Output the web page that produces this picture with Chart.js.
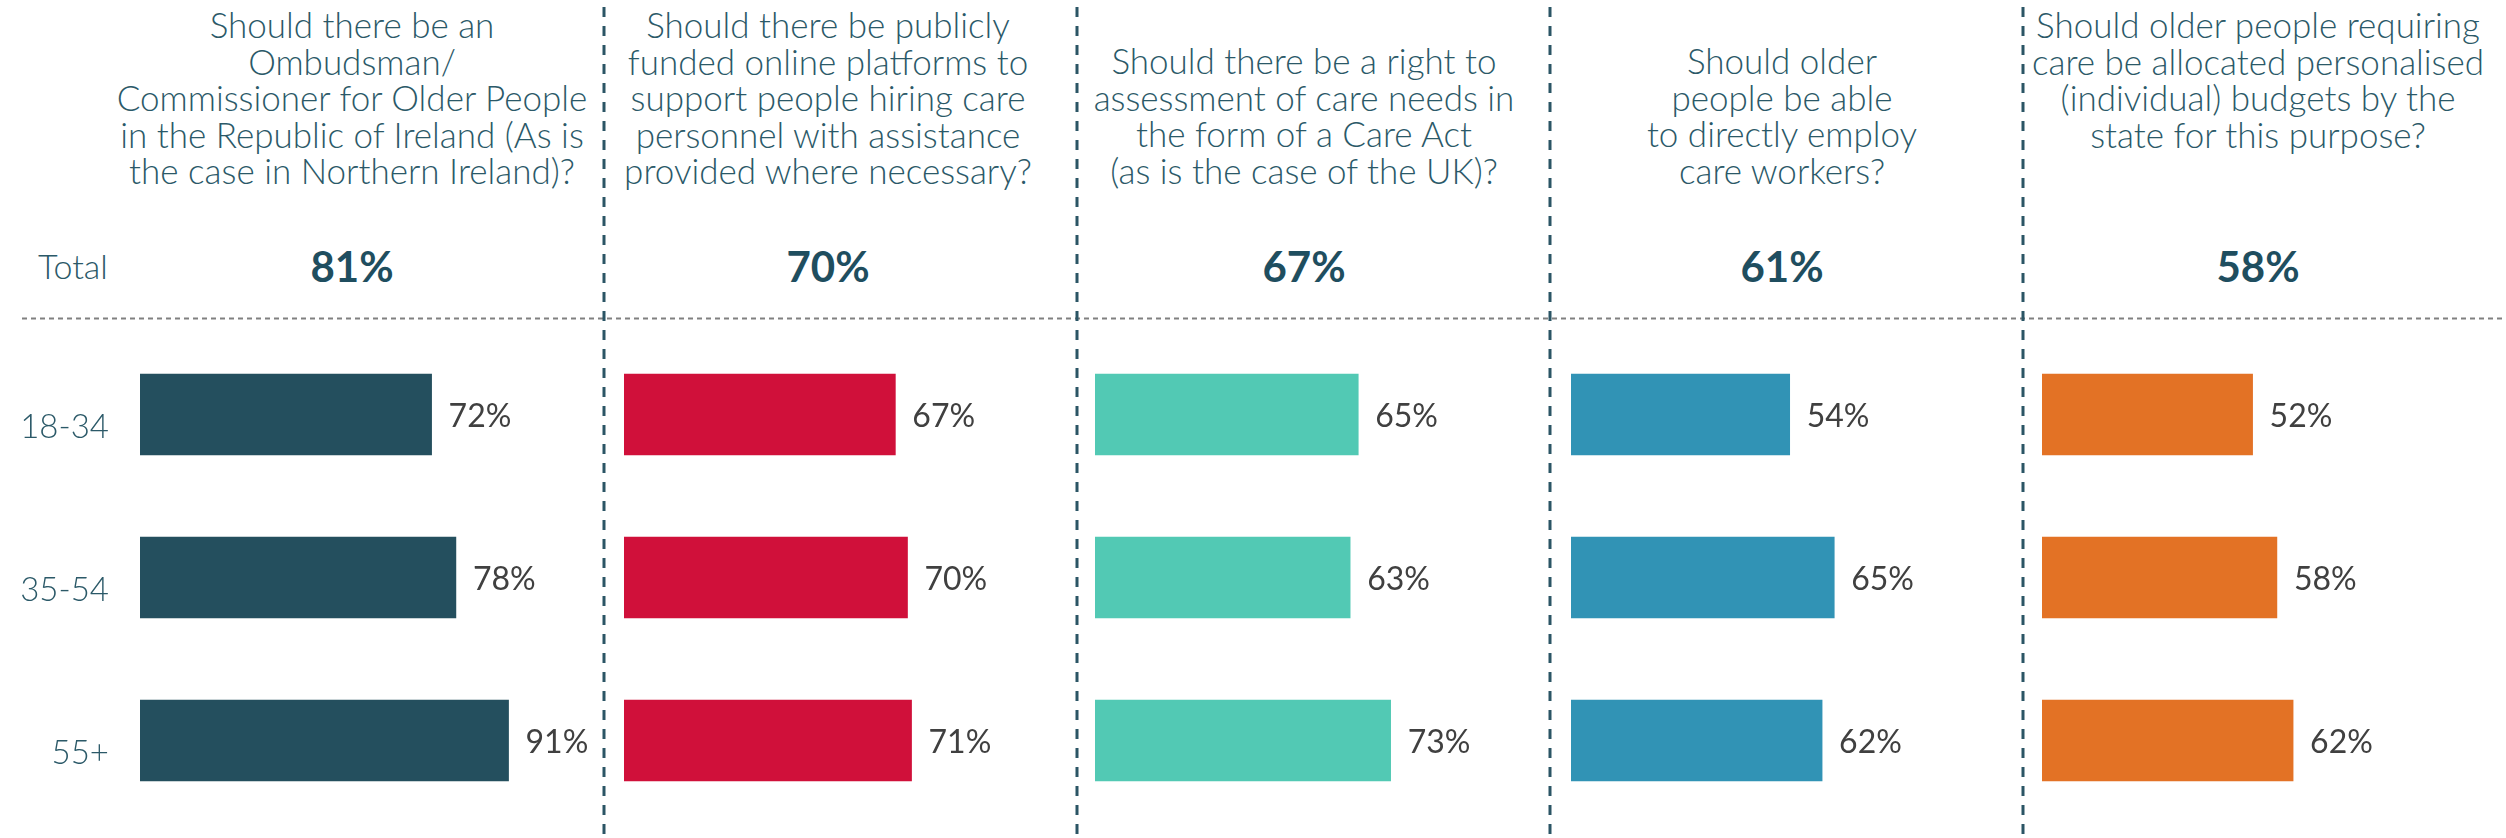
<!DOCTYPE html>
<html>
<head>
<meta charset="utf-8">
<script src="https://cdn.jsdelivr.net/npm/chart.js@4.4.1/dist/chart.umd.min.js"></script>
<style>
  html, body { margin: 0; padding: 0; background: #fff; }
  #page { position: relative; width: 2506px; height: 838px; overflow: hidden; font-family: Lato, 'Open Sans', sans-serif; }
  .title { position: absolute; width: 540px; text-align: center; white-space: pre; font-size: 35px; font-weight: 300; line-height: 36.5px; color: #2b5968; }
  .total { position: absolute; width: 200px; text-align: center; font-size: 42px; font-weight: 700; line-height: 50px; color: #1f4e5f; top: 241px; }
  .rowname { position: absolute; left: 38px; top: 246px; font-size: 34px; font-weight: 300; line-height: 40px; color: #2b5968; }
  .panel { position: absolute; top: 333px; height: 489px; }
  svg { position: absolute; left: 0; top: 0; }
</style>
</head>
<body>
<div id="page">
  <svg id="lines" width="2506" height="838"></svg>
  <div class="rowname">Total</div>
</div>
<script>
const ageGroups = ['18-34', '35-54', '55+'];
const questions = [
  'Should there be an\nOmbudsman/\nCommissioner for Older People\nin the Republic of Ireland (As is\nthe case in Northern Ireland)?',
  'Should there be publicly\nfunded online platforms to\nsupport people hiring care\npersonnel with assistance\nprovided where necessary?',
  'Should there be a right to\nassessment of care needs in\nthe form of a Care Act\n(as is the case of the UK)?',
  'Should older\npeople be able\nto directly employ\ncare workers?',
  'Should older people requiring\ncare be allocated personalised\n(individual) budgets by the\nstate for this purpose?'
];
const totals = [81, 70, 67, 61, 58];
const ombudsman = [72, 78, 91];
const onlinePlatforms = [67, 70, 71];
const careAct = [65, 63, 73];
const directEmploy = [54, 65, 62];
const personalBudgets = [52, 58, 62];
const seriesValues = [ombudsman, onlinePlatforms, careAct, directEmploy, personalBudgets];
const seriesColors = ['#244f5e', '#d0103a', '#52c9b4', '#3193b5', '#e37225'];

// layout
const titleCenters = [352, 828, 1304, 1782, 2258];
const titleTops = [6, 6, 42, 42, 6];
const barLefts = [140, 624, 1095, 1571, 2042];
const dividers = [604, 1077, 1550, 2023];
const pxPerPoint = 4.05;
const panelWidth = 460;

const page = document.getElementById('page');
const svg = document.getElementById('lines');
const NS = 'http://www.w3.org/2000/svg';

function addLine(x1, y1, x2, y2, color, width, dash) {
  const l = document.createElementNS(NS, 'line');
  l.setAttribute('x1', x1); l.setAttribute('y1', y1);
  l.setAttribute('x2', x2); l.setAttribute('y2', y2);
  l.setAttribute('stroke', color);
  l.setAttribute('stroke-width', width);
  l.setAttribute('stroke-dasharray', dash);
  svg.appendChild(l);
}

addLine(22, 318.5, 2506, 318.5, '#808080', 2, '5 4');
dividers.forEach(x => addLine(x, 7, x, 838, '#2b5565', 3, '10 9'));

questions.forEach((q, i) => {
  const t = document.createElement('div');
  t.className = 'title';
  t.textContent = q;
  t.style.left = (titleCenters[i] - 270) + 'px';
  t.style.top = titleTops[i] + 'px';
  page.appendChild(t);

  const tot = document.createElement('div');
  tot.className = 'total';
  tot.textContent = totals[i] + '%';
  tot.style.left = (titleCenters[i] - 100) + 'px';
  page.appendChild(tot);
});

// value labels after each bar, age labels left of the first panel
const barLabels = {
  id: 'barLabels',
  afterDatasetsDraw(chart, args, opts) {
    const ctx = chart.ctx;
    const meta = chart.getDatasetMeta(0);
    const yScale = chart.scales.y;
    ctx.save();
    ctx.textBaseline = 'middle';
    meta.data.forEach((bar, j) => {
      ctx.font = '400 32px Lato';
      ctx.fillStyle = '#404040';
      ctx.textAlign = 'left';
      ctx.fillText(chart.data.datasets[0].data[j] + '%', bar.x + 17, bar.y + 2);
      if (opts.showAges) {
        ctx.font = '300 33px Lato';
        ctx.fillStyle = '#2b5968';
        ctx.textAlign = 'right';
        ctx.fillText(chart.data.labels[j], chart.chartArea.left - 31, yScale.getPixelForValue(j) + 13);
      }
    });
    ctx.restore();
  }
};

seriesValues.forEach((values, i) => {
  const first = i === 0;
  const box = document.createElement('div');
  box.className = 'panel';
  box.style.left = (first ? 0 : barLefts[i]) + 'px';
  box.style.width = ((first ? barLefts[0] : 0) + panelWidth) + 'px';
  const canvas = document.createElement('canvas');
  box.appendChild(canvas);
  page.appendChild(box);

  new Chart(canvas, {
    type: 'bar',
    data: {
      labels: ageGroups,
      datasets: [{
        data: values,
        backgroundColor: seriesColors[i],
        borderWidth: 0,
        barThickness: 81
      }]
    },
    options: {
      indexAxis: 'y',
      responsive: true,
      maintainAspectRatio: false,
      animation: false,
      layout: { padding: { left: first ? barLefts[0] : 0, right: 0, top: 0, bottom: 0 } },
      plugins: {
        legend: { display: false },
        tooltip: { enabled: false },
        barLabels: { showAges: first }
      },
      scales: {
        x: { display: false, min: 0, max: panelWidth / pxPerPoint },
        y: { display: false }
      }
    },
    plugins: [barLabels]
  });
});
</script>
</body>
</html>
